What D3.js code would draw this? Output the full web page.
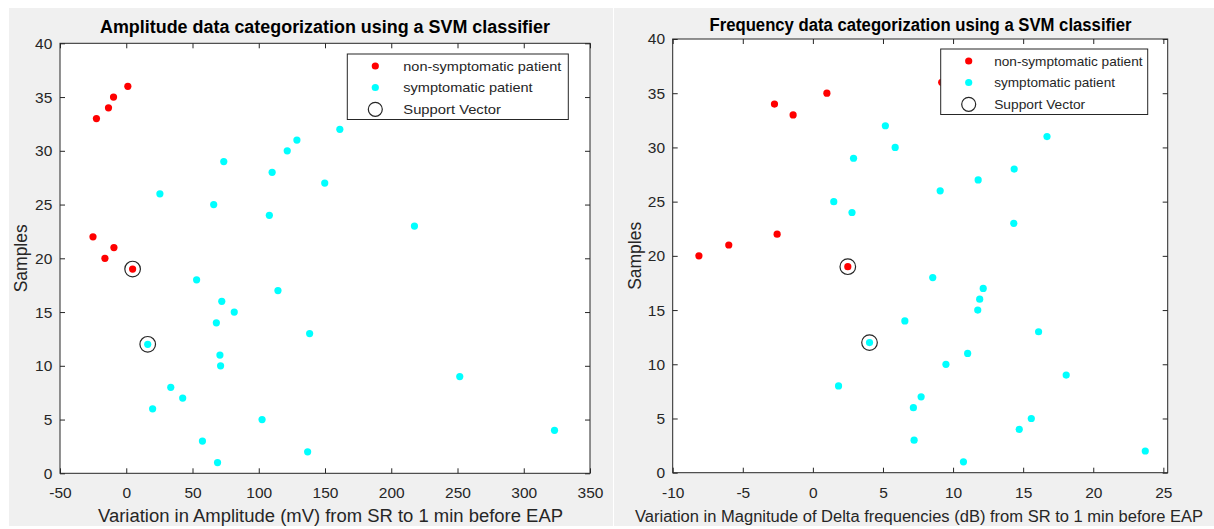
<!DOCTYPE html>
<html>
<head>
<meta charset="utf-8">
<script src="https://cdn.jsdelivr.net/npm/d3@7"></script>
<style>
  body { margin: 0; background: #ffffff; }
  text { font-family: "Liberation Sans", Arial, Helvetica, sans-serif; }
</style>
</head>
<body>
<svg id="fig" width="1214" height="529"></svg>
<script>
// Sample index (1..36) is plotted on the vertical axis
const samples = d3.range(1, 37);

// Amplitude variation (mV) per sample, SR -> 1 min before EAP
const amplitudeChange = [
  68.9, 136.9, 57.5, 323.2, 102.5, 19.9, 42.6, 33.6, 251.7, 71.2,
  70.7, 16.2, 138.4, 68.0, 81.5, 72.1, 114.5, 53.1, 4.8, -16.1,
  -9.3, -25.1, 217.5, 108.0, 66.0, 25.4, 149.8, 110.1, 73.6, 121.5,
  128.8, 161.2, -22.5, -13.4, -9.6, 1.2
];

// Delta-band magnitude variation (dB) per sample, SR -> 1 min before EAP
const deltaChange = [
  10.74, 23.71, 7.22, 14.72, 15.58, 7.17, 7.72, 1.83, 18.07, 9.49,
  11.04, 4.04, 16.1, 6.56, 11.76, 11.9, 12.15, 8.55, 2.49, -8.13,
  -6.0, -2.55, 14.33, 2.79, 1.49, 9.08, 11.79, 14.36, 2.9, 5.87,
  16.7, 5.17, -1.41, -2.74, 1.0, 9.19
];

// Class membership and SVM support vectors (sample numbers)
const nonSymptomatic = [19, 20, 21, 22, 33, 34, 35, 36];
const supportVectors = [12, 19];

const legendLabels = ["non-symptomatic patient", "symptomatic patient", "Support Vector"];
const classColors = ["#ff0000", "#00ffff"];

// Tick values
const sampleTicks = d3.range(0, 41, 5);
const amplitudeTicks = d3.range(-50, 351, 50);
const deltaTicks = d3.range(-10, 26, 5);

const titles = [
  "Amplitude data categorization using a SVM classifier",
  "Frequency data categorization using a SVM classifier"
];
const xLabels = [
  "Variation in Amplitude (mV) from SR to 1 min before EAP",
  "Variation in Magnitude of Delta frequencies (dB) from SR to 1 min before EAP"
];
const yLabel = "Samples";

const svg = d3.select("#fig");
const axisColor = "#262626";

function drawPanel(p) {
  const g = svg.append("g");

  // figure background of this panel
  g.append("rect")
    .attr("x", p.bgX).attr("y", 8)
    .attr("width", p.bgW).attr("height", 518)
    .attr("fill", "#f0f0f0");

  const x = d3.scaleLinear().domain(p.xDomain).range([p.left, p.right]);
  const y = d3.scaleLinear().domain([0, 40]).range([p.bottom, p.top]);

  // plot area
  g.append("rect")
    .attr("x", p.left).attr("y", p.top)
    .attr("width", p.right - p.left).attr("height", p.bottom - p.top)
    .attr("fill", "#ffffff");

  const fmt = d => String(d);

  const bottomAxis = g.append("g")
    .attr("transform", `translate(0,${p.bottom})`)
    .call(d3.axisBottom(x).tickValues(p.xTicks).tickFormat(fmt)
      .tickSizeInner(-5).tickSizeOuter(0).tickPadding(14));
  const topAxis = g.append("g")
    .attr("transform", `translate(0,${p.top})`)
    .call(d3.axisTop(x).tickValues(p.xTicks).tickFormat("")
      .tickSizeInner(-5).tickSizeOuter(0));
  const leftAxis = g.append("g")
    .attr("transform", `translate(${p.left},0)`)
    .call(d3.axisLeft(y).tickValues(sampleTicks).tickFormat(fmt)
      .tickSizeInner(-5).tickSizeOuter(0).tickPadding(7.7));
  const rightAxis = g.append("g")
    .attr("transform", `translate(${p.right},0)`)
    .call(d3.axisRight(y).tickValues(sampleTicks).tickFormat("")
      .tickSizeInner(-5).tickSizeOuter(0));

  [bottomAxis, topAxis, leftAxis, rightAxis].forEach(a => {
    a.select(".domain").remove();
    a.selectAll(".tick line").attr("stroke", axisColor).attr("stroke-width", 1);
    a.selectAll(".tick text")
      .attr("fill", axisColor)
      .style("font-size", "15.5px")
      .style("font-family", "\"Liberation Sans\", Arial, sans-serif");
  });

  // axes box
  g.append("rect")
    .attr("x", p.left).attr("y", p.top)
    .attr("width", p.right - p.left).attr("height", p.bottom - p.top)
    .attr("fill", "none").attr("stroke", axisColor).attr("stroke-width", 1);

  // data points
  g.append("g").selectAll("circle")
    .data(samples)
    .join("circle")
    .attr("cx", s => x(p.values[s - 1]))
    .attr("cy", s => y(s))
    .attr("r", 3.6)
    .attr("fill", s => nonSymptomatic.includes(s) ? classColors[0] : classColors[1]);

  // support vectors
  g.append("g").selectAll("circle")
    .data(supportVectors)
    .join("circle")
    .attr("cx", s => x(p.values[s - 1]))
    .attr("cy", s => y(s))
    .attr("r", 7.8)
    .attr("fill", "none")
    .attr("stroke", axisColor)
    .attr("stroke-width", 1.2);

  // title
  g.append("text")
    .attr("x", p.titleX).attr("y", p.titleY)
    .attr("text-anchor", "middle")
    .attr("textLength", p.titleLen).attr("lengthAdjust", "spacingAndGlyphs")
    .style("font-size", "17.5px").style("font-weight", "bold")
    .attr("fill", "#000000")
    .text(p.title);

  // x label
  g.append("text")
    .attr("x", p.xLabelX).attr("y", 521.5)
    .attr("text-anchor", "middle")
    .attr("textLength", p.xLabelLen).attr("lengthAdjust", "spacingAndGlyphs")
    .style("font-size", p.xLabelSize)
    .attr("fill", axisColor)
    .text(p.xLabel);

  // y label
  g.append("text")
    .attr("transform", `translate(${p.yLabelX},${(p.top + p.bottom) / 2}) rotate(-90)`)
    .attr("text-anchor", "middle")
    .attr("textLength", 68).attr("lengthAdjust", "spacingAndGlyphs")
    .style("font-size", "18px")
    .attr("fill", axisColor)
    .text(yLabel);

  // legend
  const lg = g.append("g").attr("transform", `translate(${p.legX},${p.legY})`);
  lg.append("rect")
    .attr("width", p.legW).attr("height", 65.5)
    .attr("fill", "#ffffff").attr("stroke", axisColor).attr("stroke-width", 1);
  const rows = [12, 33.5, 55.3];
  lg.append("circle").attr("cx", 28).attr("cy", rows[0]).attr("r", 3.6).attr("fill", classColors[0]);
  lg.append("circle").attr("cx", 28).attr("cy", rows[1]).attr("r", 3.6).attr("fill", classColors[1]);
  lg.append("circle").attr("cx", 28).attr("cy", rows[2]).attr("r", 7)
    .attr("fill", "none").attr("stroke", axisColor).attr("stroke-width", 1.2);
  legendLabels.forEach((label, i) => {
    lg.append("text")
      .attr("x", p.legTextX).attr("y", rows[i])
      .attr("dy", "0.35em")
      .attr("textLength", p.legLens[i]).attr("lengthAdjust", "spacingAndGlyphs")
      .style("font-size", "13.5px")
      .attr("fill", axisColor)
      .text(label);
  });
}

drawPanel({
  bgX: 9, bgW: 604,
  left: 60, right: 590, top: 43.3, bottom: 473.3,
  xDomain: [-50, 350], xTicks: amplitudeTicks, values: amplitudeChange,
  title: titles[0], titleX: 325, titleY: 33.3, titleLen: 450,
  xLabel: xLabels[0], xLabelX: 330.5, xLabelLen: 465, xLabelSize: "18px",
  yLabelX: 27,
  legX: 347.3, legY: 54, legW: 221, legTextX: 56, legLens: [158, 129.3, 97.7]
});

drawPanel({
  bgX: 614, bgW: 600,
  left: 672.7, right: 1167.7, top: 39, bottom: 472.7,
  xDomain: [-10, 25.31], xTicks: deltaTicks, values: deltaChange,
  title: titles[1], titleX: 920.5, titleY: 30.5, titleLen: 422,
  xLabel: xLabels[1], xLabelX: 919, xLabelLen: 568, xLabelSize: "16px",
  yLabelX: 641,
  legX: 940.7, legY: 49, legW: 207, legTextX: 53.5, legLens: [148.3, 120.8, 91]
});
</script>
</body>
</html>
